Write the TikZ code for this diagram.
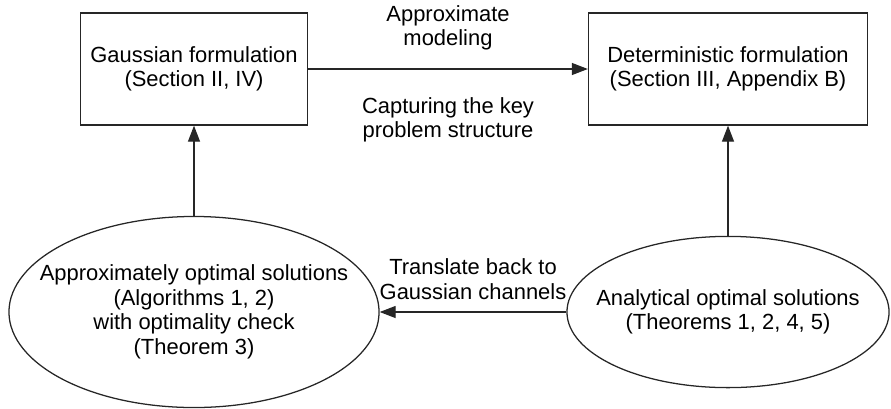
\documentclass[tikz,border=0pt]{standalone}
\usepackage{fontspec}
\setmainfont{Liberation Sans}
\usepackage{tikz}
\usetikzlibrary{arrows, arrows.meta}
\usetikzlibrary{positioning}
\usetikzlibrary{shapes.geometric}

\tikzset{
	form/.style={draw=black!85, line width=0.9pt, rectangle, minimum height=2.8cm, align=center},
	sol/.style={draw=black!85, line width=0.9pt, ellipse, inner sep=0pt},
	txt/.style={align=center, inner sep=0pt},
	flow/.style={-{Triangle[length=4mm, width=3mm]}, line width=0.9pt, draw=black!85}
}

\begin{document}
\begin{tikzpicture}[x=0.025cm, y=-0.025cm, font=\fontsize{15.6}{17.4}\selectfont] % formulations and solutions
	
	\useasboundingbox (0,0) rectangle (891,408);
	
	%formulation boxes
	\node[form, minimum width=5.675cm] (gauss) at (194,69) {Gaussian formulation\\(Section II, IV)};
	\node[form, minimum width=6.975cm] (det) at (728,69) {Deterministic formulation\\(Section III, Appendix B)};
	
	%solution ellipses
	\node[sol, minimum width=9.25cm, minimum height=4.775cm] (approx) at (194,312) {};
	\node[sol, minimum width=8.05cm, minimum height=3.78cm] (analyt) at (728,312) {};
	\node[txt] (approxtxt) at (approx.center) {Approximately optimal solutions\\(Algorithms 1, 2)\\with optimality check\\(Theorem 3)};
	\node[txt] (analyttxt) at (analyt.center) {Analytical optimal solutions\\(Theorems 1, 2, 4, 5)};
	
	%arrows
	\draw[flow] (gauss.east) -- (det.west);
	\draw[flow] (analyt.north) -- (det.south);
	\draw[flow] (analyt.west) -- (approx.east);
	\draw[flow] (approx.north) -- (gauss.south);
	
	%labels
	\node[txt] (modlbl) at (448,28) {Approximate\\modeling};
	\node[txt] (keylbl) at (448,120) {Capturing the key\\problem structure};
	\node[txt] (backlbl) at (473,279) {Translate back to\\Gaussian channels};
	
\end{tikzpicture}
\end{document}
